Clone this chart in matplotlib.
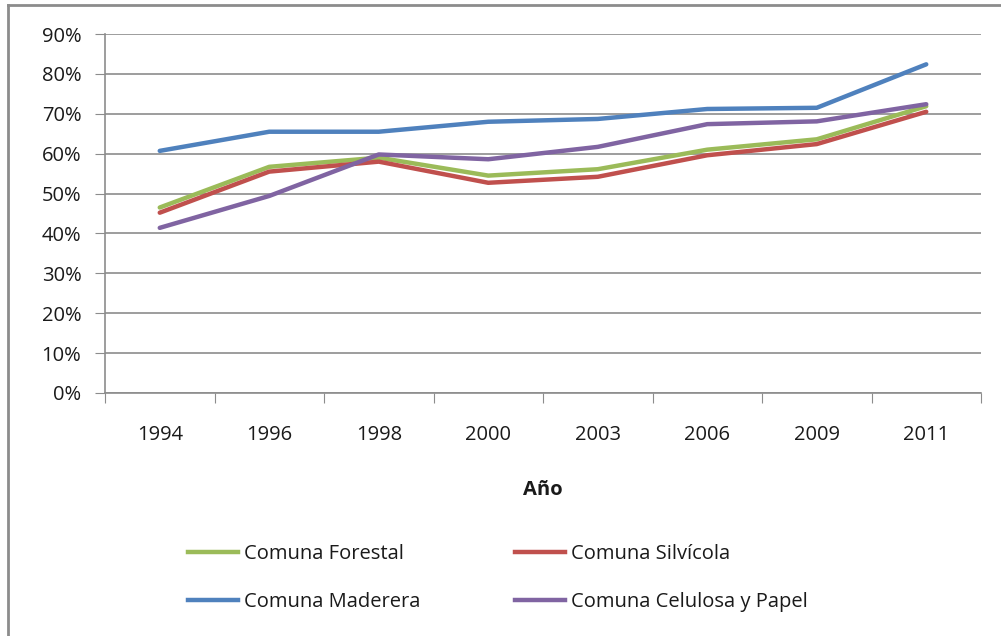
import numpy as np
import matplotlib
matplotlib.use("Agg")
import matplotlib.pyplot as plt
from matplotlib.lines import Line2D

# data
years = ["1994", "1996", "1998", "2000", "2003", "2006", "2009", "2011"]
forestal = [46.5, 56.7, 59.0, 54.5, 56.1, 61.0, 63.6, 71.9]
silvicola = [45.2, 55.5, 58.0, 52.7, 54.2, 59.6, 62.4, 70.5]
maderera = [60.7, 65.5, 65.5, 68.0, 68.7, 71.2, 71.5, 82.4]
celulosa = [41.4, 49.4, 59.8, 58.6, 61.7, 67.4, 68.1, 72.4]
yticks = list(range(0, 100, 10))

series = [
    ("Comuna Forestal", forestal, "#9BBB59"),
    ("Comuna Silvícola", silvicola, "#C0504D"),
    ("Comuna Maderera", maderera, "#4F81BD"),
    ("Comuna Celulosa y Papel", celulosa, "#8064A2"),
]

plt.rcParams["font.family"] = ["Open Sans", "DejaVu Sans"]
FS = 14.5
TXT = "#1a1a1a"

W, H = 1001, 636
fig = plt.figure(figsize=(W / 100, H / 100), dpi=100)
fig.patch.set_facecolor("white")

# outer chart frame (partly cut off in the reference)
fig.add_artist(Line2D([8 / W, 8 / W], [0, 1 - 5 / H], transform=fig.transFigure,
                      color="#8c8c8c", lw=2))
fig.add_artist(Line2D([8 / W, 1], [1 - 5 / H, 1 - 5 / H], transform=fig.transFigure,
                      color="#8c8c8c", lw=2))

left, right, top, bottom = 105, 981, 34, 393
ax = fig.add_axes([left / W, 1 - bottom / H, (right - left) / W, (bottom - top) / H])

x = np.arange(len(years))
for name, vals, col in series:
    ax.plot(x, vals, color=col, lw=3.2, label=name, solid_capstyle="round")

ax.set_xlim(-0.5, len(years) - 0.5)
ax.set_ylim(0, 90)
ax.set_yticks(yticks)
ax.set_yticklabels([f"{v}%" for v in yticks], fontsize=FS, color=TXT)
ax.yaxis.grid(True, color="#8c8c8c", lw=1.2)
ax.set_axisbelow(True)

# category boundaries as major ticks, labels as minor ticks at centres
ax.set_xticks(np.arange(-0.5, len(years), 1.0))
ax.set_xticklabels([])
ax.set_xticks(x, minor=True)
ax.set_xticklabels(years, minor=True, fontsize=FS, color=TXT)
ax.tick_params(axis="x", which="major", length=7, color="#8c8c8c", direction="out")
ax.tick_params(axis="x", which="minor", length=0, pad=23)
ax.tick_params(axis="y", length=7, color="#8c8c8c", pad=10)

for s in ["top", "right"]:
    ax.spines[s].set_visible(False)
for s in ["left", "bottom"]:
    ax.spines[s].set_color("#8c8c8c")
    ax.spines[s].set_linewidth(1.2)

ax.set_xlabel("Año", fontsize=FS, fontweight="bold", labelpad=25, color=TXT)

handles = [Line2D([0], [0], color=c, lw=3.2) for _, _, c in series]
labels = [n for n, _, _ in series]
# two columns placed separately: Forestal/Maderera and Silvícola/Celulosa
kw = dict(loc="center left", frameon=False, fontsize=FS, handlelength=2.5,
          handletextpad=0.3, labelspacing=1.4, borderpad=0, borderaxespad=0)
leg1 = fig.legend([handles[0], handles[2]], [labels[0], labels[2]],
                  bbox_to_anchor=(188 / W, 1 - 578 / H), **kw)
for t in leg1.get_texts():
    t.set_color(TXT)
leg2 = fig.legend([handles[1], handles[3]], [labels[1], labels[3]],
                  bbox_to_anchor=(515 / W, 1 - 578 / H), **kw)
for t in leg2.get_texts():
    t.set_color(TXT)

fig.savefig("out.png", dpi=100, facecolor="white")
